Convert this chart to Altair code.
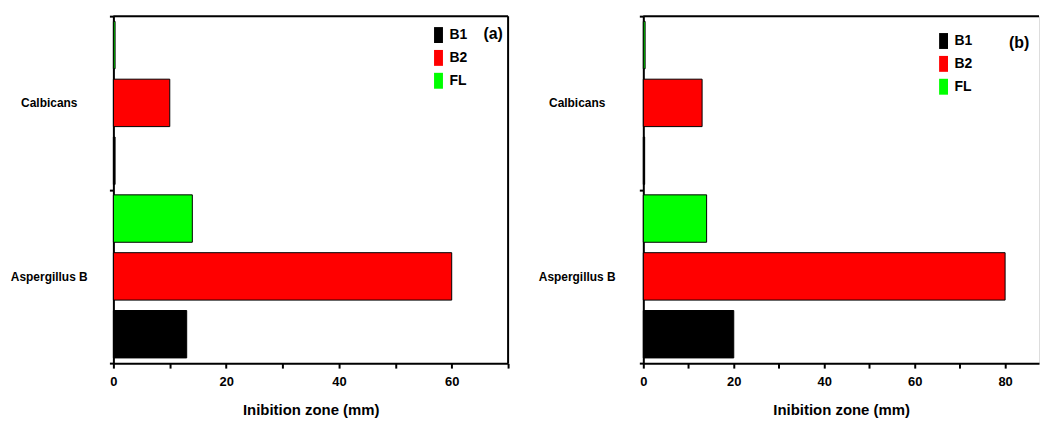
import altair as alt
import pandas as pd

organisms = ["Calbicans", "Aspergillus B"]
series = ["B1", "B2", "FL"]
colors = ["#000000", "#ff0000", "#00ff00"]

# panel (a)
a_calbicans = [0.3, 10, 0.3]
a_aspergillus = [13, 60, 14]
# panel (b)
b_calbicans = [0.3, 13, 0.4]
b_aspergillus = [20, 80, 14]

a_ticks = [0, 10, 20, 30, 40, 50, 60, 70]
b_ticks = [0, 10, 20, 30, 40, 50, 60, 70, 80]

FONT = "Liberation Sans"
H = 349


def table(calb, asp):
    rows = []
    for s, v in zip(series, calb):
        rows.append({"organism": "Calbicans", "series": s, "value": v})
    for s, v in zip(series, asp):
        rows.append({"organism": "Aspergillus B", "series": s, "value": v})
    return pd.DataFrame(rows)


def panel(df, width, xmax, ticks, tag, legend_x, legend_y, tag_x, tag_y, label_pad, right_border):
    bars = alt.Chart(df).mark_bar(stroke="black", strokeWidth=1).encode(
        y=alt.Y(
            "organism:N",
            sort=organisms,
            scale=alt.Scale(paddingInner=0, paddingOuter=0),
            axis=alt.Axis(
                title=None, tickBand="extent", labelAlign="center", labelBaseline="middle",
                labelPadding=label_pad, labelFont=FONT, labelFontSize=12, labelFontWeight="bold",
                labelColor="black", tickSize=4, tickWidth=2, tickColor="black",
                domainWidth=2, domainColor="black",
            ),
        ),
        yOffset=alt.YOffset(
            "series:N", sort=["FL", "B2", "B1"],
            scale=alt.Scale(paddingInner=0.18, paddingOuter=0.09),
        ),
        x=alt.X(
            "value:Q",
            scale=alt.Scale(domain=[0, xmax], nice=False, zero=True),
            axis=alt.Axis(
                values=ticks, labelExpr="datum.value % 20 == 0 ? datum.label : ''",
                title="Inibition zone (mm)", titleFont=FONT, titleFontSize=15,
                titleFontWeight="bold", titleColor="black", titlePadding=14,
                labelFont=FONT, labelFontSize=13, labelFontWeight="bold", labelColor="black",
                labelPadding=8, tickSize=5, tickWidth=2, tickColor="black",
                domainWidth=2, domainColor="black", grid=False, labelFlush=False,
            ),
        ),
        color=alt.Color(
            "series:N",
            scale=alt.Scale(domain=series, range=colors),
            legend=alt.Legend(
                title=None, orient="none", legendX=legend_x, legendY=legend_y,
                symbolType="M-0.56,-1L0.56,-1L0.56,1L-0.56,1Z", symbolSize=256,
                symbolStrokeWidth=0, labelFont=FONT, labelFontSize=14,
                labelFontWeight="bold", labelColor="black", rowPadding=7, labelOffset=3,
                padding=0,
            ),
        ),
    )
    one = pd.DataFrame({"t": [tag]})
    tag_text = alt.Chart(one).mark_text(
        font=FONT, fontSize=16, fontWeight="bold", color="black", align="center", baseline="middle"
    ).encode(x=alt.value(tag_x), y=alt.value(tag_y), text="t:N")
    top = alt.Chart(one).mark_rule(color="black", strokeWidth=2).encode(
        x=alt.value(0), x2=alt.value(width), y=alt.value(0)
    )
    layers = [bars, tag_text, top]
    if right_border:
        right = alt.Chart(one).mark_rule(color="black", strokeWidth=2).encode(
            x=alt.value(width), y=alt.value(0), y2=alt.value(H)
        )
        layers.append(right)
    return alt.layer(*layers).properties(width=width, height=H)


pa = panel(table(a_calbicans, a_aspergillus), 397, 70, a_ticks, "(a)",
           319, 11, 382, 18, 61, True)
pb = panel(table(b_calbicans, b_aspergillus), 398, 87.5, b_ticks, "(b)",
           294, 17, 378, 27, 63, False)

chart = alt.hconcat(pa, pb, spacing=27).resolve_legend(color="independent").resolve_scale(
    color="independent"
).properties(
    padding={"left": 1, "top": 0, "right": 0, "bottom": 0}
).configure_view(stroke=None).configure(font=FONT)

chart.save("out.html", embed_options={"renderer": "svg", "actions": False})
